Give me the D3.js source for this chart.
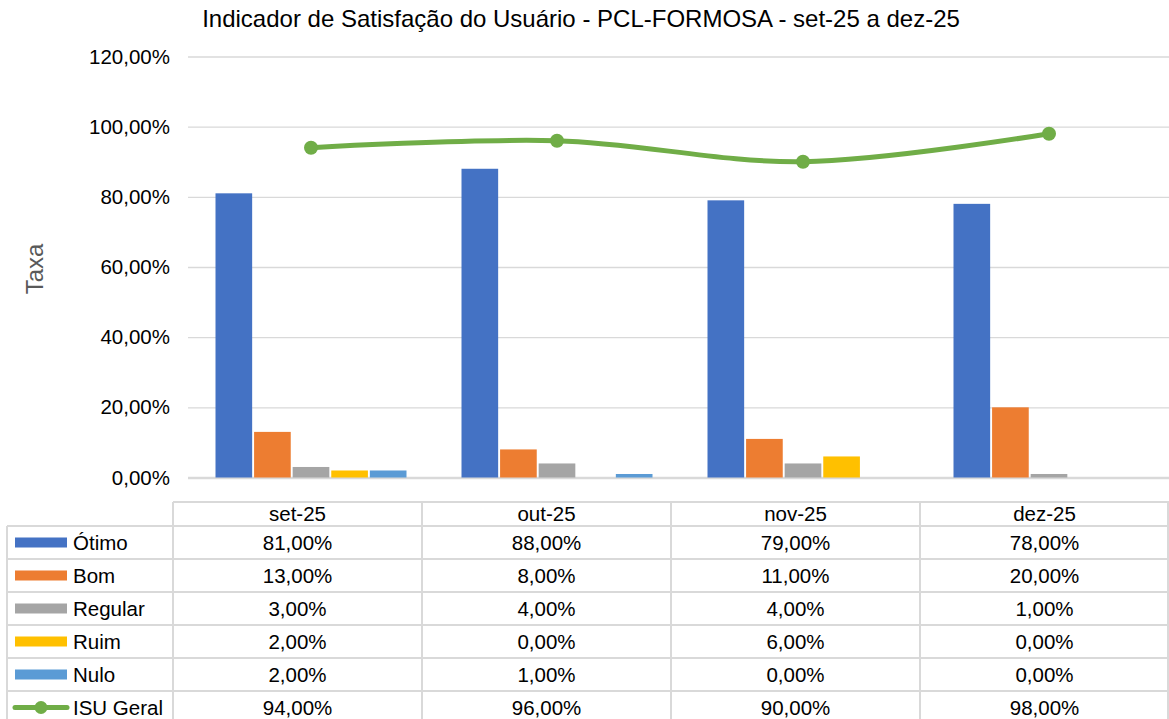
<!DOCTYPE html>
<html>
<head>
<meta charset="utf-8">
<script src="https://cdn.jsdelivr.net/npm/d3@7/dist/d3.min.js"></script>
<style>
  html, body { margin: 0; padding: 0; background: #fff; }
  svg { display: block; font-family: "Liberation Sans", Arial, sans-serif; }
</style>
</head>
<body>
<svg id="chart" width="1169" height="719"></svg>
<script>
// Monthly satisfaction data
const months = ["set-25", "out-25", "nov-25", "dez-25"];
const barSeries = ["Ótimo", "Bom", "Regular", "Ruim", "Nulo"];
const otimo   = [0.81, 0.88, 0.79, 0.78];
const bom     = [0.13, 0.08, 0.11, 0.20];
const regular = [0.03, 0.04, 0.04, 0.01];
const ruim    = [0.02, 0.00, 0.06, 0.00];
const nulo    = [0.02, 0.01, 0.00, 0.00];
const isuGeral = [0.94, 0.96, 0.90, 0.98];
const lineSeries = "ISU Geral";
const yTicks = [0, 0.2, 0.4, 0.6, 0.8, 1.0, 1.2];
const title = "Indicador de Satisfação do Usuário - PCL-FORMOSA - set-25 a dez-25";
const yTitle = "Taxa";

const barValues = [otimo, bom, regular, ruim, nulo];
const colors = {
  "Ótimo": "#4472C4", "Bom": "#ED7D31", "Regular": "#A5A5A5",
  "Ruim": "#FFC000", "Nulo": "#5B9BD5", "ISU Geral": "#70AD47"
};

const svg = d3.select("#chart");
const fmt = v => d3.format(".2f")(v * 100).replace(".", ",") + "%";
const gridColor = "#d9d9d9";

// Scales
const y = d3.scaleLinear().domain([0, 1.2]).range([477.5, 56.5]);
const x0 = d3.scaleBand().domain(months).range([188, 1172]);
const x1 = d3.scaleBand().domain(barSeries)
  .range([27.5, x0.bandwidth() - 27.5]).paddingInner(0.05);
const xt = d3.scaleBand().domain(months).range([173, 1169]);

// Title
svg.append("text").attr("x", 581).attr("y", 27).attr("text-anchor", "middle")
  .attr("font-size", 24).attr("fill", "#000").text(title);

// Y axis title
svg.append("text").attr("transform", "translate(43,269) rotate(-90)")
  .attr("text-anchor", "middle").attr("font-size", 24).attr("fill", "#595959")
  .text(yTitle);

// Gridlines and tick labels
const yAxis = d3.axisLeft(y).tickValues(yTicks).tickFormat(fmt)
  .tickSize(-(1172 - 188)).tickPadding(18);
const gy = svg.append("g").attr("transform", "translate(188,0)").call(yAxis);
gy.select(".domain").remove();
gy.selectAll(".tick line").attr("stroke", gridColor).attr("stroke-width", 1.3);
gy.selectAll(".tick text").attr("font-size", 20.5).attr("fill", "#000")
  .attr("font-family", "'Liberation Sans', Arial, sans-serif");
// baseline
svg.append("line").attr("x1", 188).attr("x2", 1172)
  .attr("y1", y(0) + 0.5).attr("y2", y(0) + 0.5)
  .attr("stroke", gridColor).attr("stroke-width", 2.5);

// Bars
const groups = svg.append("g").selectAll("g").data(months).join("g")
  .attr("transform", d => `translate(${x0(d)},0)`);
groups.selectAll("rect")
  .data((m, i) => barSeries.map((s, k) => ({ s, v: barValues[k][i] })))
  .join("rect")
  .attr("x", d => x1(d.s)).attr("width", x1.bandwidth())
  .attr("y", d => y(d.v)).attr("height", d => y(0) - y(d.v))
  .attr("fill", d => colors[d.s]);

// ISU Geral line
const cx = m => x0(m) + x0.bandwidth() / 2;
const line = d3.line().x((d, i) => cx(months[i])).y(d => y(d))
  .curve(d3.curveCardinal.tension(0));
svg.append("path").datum(isuGeral).attr("d", line).attr("fill", "none")
  .attr("stroke", colors[lineSeries]).attr("stroke-width", 5)
  .attr("stroke-linecap", "round");
svg.append("g").selectAll("circle").data(isuGeral).join("circle")
  .attr("cx", (d, i) => cx(months[i])).attr("cy", d => y(d)).attr("r", 7)
  .attr("fill", colors[lineSeries]);

// Data table
const headTop = 502, rowTop = 526, rowH = 33;
const allSeries = barSeries.concat([lineSeries]);
const allValues = barValues.concat([isuGeral]);
const tbl = svg.append("g");
const rowsBottom = rowTop + rowH * allSeries.length;

// horizontal lines
tbl.append("line").attr("x1", 173).attr("x2", 1169).attr("y1", headTop).attr("y2", headTop)
  .attr("stroke", gridColor).attr("stroke-width", 2);
d3.range(allSeries.length + 1).forEach(i => {
  const yy = rowTop + i * rowH;
  tbl.append("line").attr("x1", 7).attr("x2", 1169).attr("y1", yy).attr("y2", yy)
    .attr("stroke", gridColor).attr("stroke-width", 2);
});
// vertical lines
tbl.append("line").attr("x1", 7).attr("x2", 7).attr("y1", rowTop).attr("y2", rowsBottom)
  .attr("stroke", gridColor).attr("stroke-width", 2);
months.forEach(m => {
  tbl.append("line").attr("x1", xt(m)).attr("x2", xt(m)).attr("y1", headTop).attr("y2", rowsBottom)
    .attr("stroke", gridColor).attr("stroke-width", 2);
});
tbl.append("line").attr("x1", 1168).attr("x2", 1168).attr("y1", headTop).attr("y2", rowsBottom)
  .attr("stroke", gridColor).attr("stroke-width", 2);

// header labels
tbl.selectAll("text.head").data(months).join("text").attr("class", "head")
  .attr("x", m => xt(m) + xt.bandwidth() / 2).attr("y", headTop + 12)
  .attr("dy", "0.36em").attr("text-anchor", "middle").attr("font-size", 20.5)
  .text(m => m);

// rows
allSeries.forEach((s, r) => {
  const cy = rowTop + r * rowH + rowH / 2;
  if (s === lineSeries) {
    tbl.append("line").attr("x1", 15).attr("x2", 67).attr("y1", cy).attr("y2", cy)
      .attr("stroke", colors[s]).attr("stroke-width", 5).attr("stroke-linecap", "round");
    tbl.append("circle").attr("cx", 41).attr("cy", cy).attr("r", 6.5).attr("fill", colors[s]);
  } else {
    tbl.append("rect").attr("x", 15).attr("y", cy - 5).attr("width", 52).attr("height", 10)
      .attr("fill", colors[s]);
  }
  tbl.append("text").attr("x", 73).attr("y", cy).attr("dy", "0.36em")
    .attr("font-size", 20.5).text(s);
  tbl.selectAll(null).data(allValues[r]).join("text")
    .attr("x", (d, i) => xt(months[i]) + xt.bandwidth() / 2).attr("y", cy)
    .attr("dy", "0.36em").attr("text-anchor", "middle").attr("font-size", 20.5)
    .text(d => fmt(d));
});
</script>
</body>
</html>
